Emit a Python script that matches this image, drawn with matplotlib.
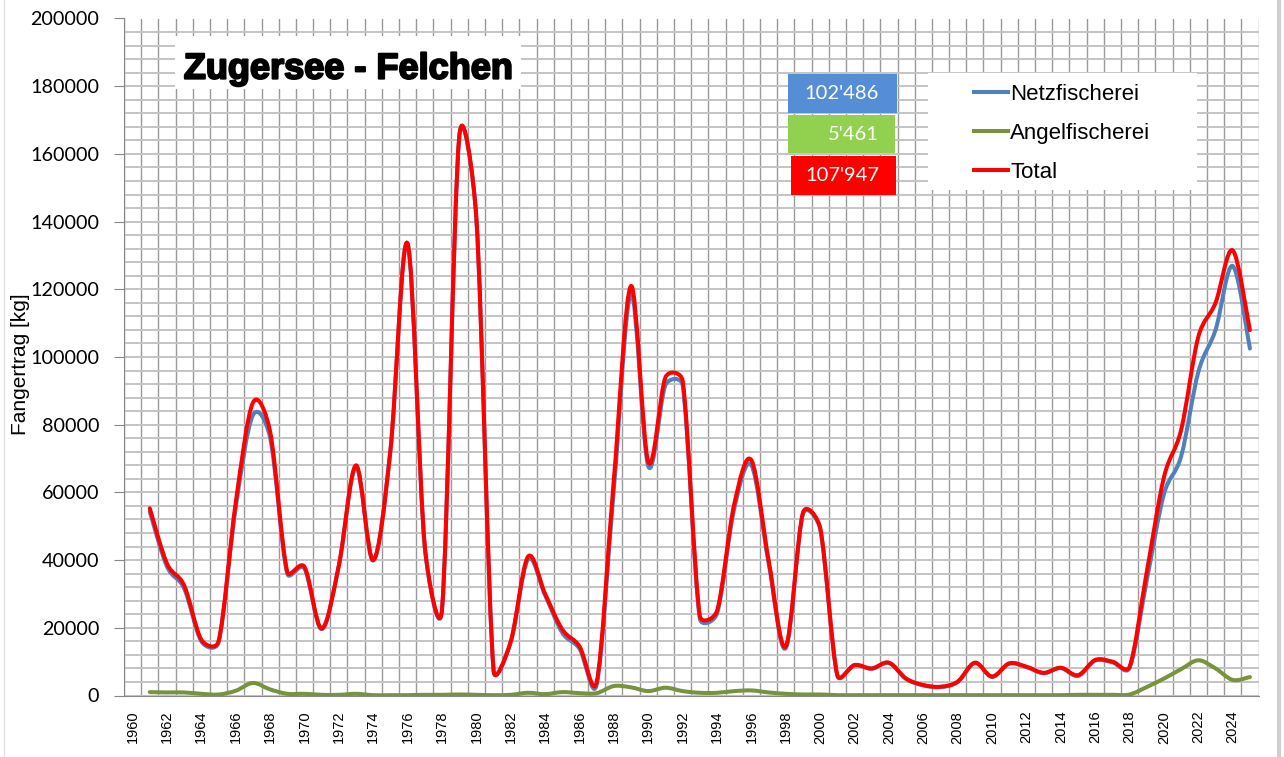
import matplotlib
matplotlib.use("Agg")
import matplotlib.pyplot as plt
import matplotlib.patheffects as pe
from matplotlib.path import Path
from matplotlib.patches import PathPatch, Rectangle
from matplotlib.lines import Line2D
import numpy as np

years = list(range(1961, 2026))

netz = [54300, 38100, 31600, 16000, 15700, 55600, 82800, 76200, 36000, 37500,
        19600, 38300, 67500, 39900, 72400, 133400, 43800, 25300, 164700, 140800,
        7400, 15800, 40200, 29600, 18500, 13800, 3300, 61200, 118600, 67700,
        91700, 91700, 22700, 24200, 55200, 68000, 39100, 14000, 53700, 49200,
        5900, 8900, 7900, 9600, 4900, 3000, 2500, 4000, 9600, 5500,
        9400, 8400, 6600, 8100, 5800, 10300, 9800, 8200, 34000, 59500,
        70700, 95600, 108000, 126900, 102486]

angel = [1000, 900, 900, 500, 300, 1400, 3700, 1800, 500, 500,
         200, 200, 500, 100, 100, 100, 200, 200, 300, 200,
         100, 200, 800, 400, 1000, 700, 700, 2800, 2400, 1300,
         2300, 1300, 800, 800, 1300, 1500, 900, 500, 300, 300,
         100, 100, 100, 100, 100, 100, 100, 100, 100, 100,
         100, 100, 100, 100, 200, 200, 200, 300, 2500, 5000,
         7800, 10400, 8000, 4600, 5461]

total = [55300, 39000, 32500, 16500, 16000, 57000, 86500, 78000, 36500, 38000,
         19800, 38500, 68000, 40000, 72500, 133500, 44000, 25500, 165000, 141000,
         7500, 16000, 41000, 30000, 19500, 14500, 4000, 64000, 121000, 69000,
         94000, 93000, 23500, 25000, 56500, 69500, 40000, 14500, 54000, 49500,
         6000, 9000, 8000, 9700, 5000, 3100, 2600, 4100, 9700, 5600,
         9500, 8500, 6700, 8200, 6000, 10500, 10000, 8500, 36500, 64500,
         78500, 106000, 116000, 131500, 107947]

series_names = ["Netzfischerei", "Angelfischerei", "Total"]
box_labels = ["102'486", "5'461", "107'947"]

c_blue = "#4F81BD"
c_green = "#77933C"
c_red = "#FF0000"

W, H = 1284, 757
PX_X = 17.19            # pixels per year
PX_Y = 677 / 200000     # pixels per kg


def smooth_path(x, y):
    # Excel smoothed line: bezier segments, control arms capped at half segment length
    pts = np.column_stack([x, y]).astype(float)
    sc = np.array([PX_X, PX_Y])
    dist = lambda a, b: np.hypot(*((a - b) * sc))
    n = len(pts)
    verts = [pts[0]]
    codes = [Path.MOVETO]
    for i in range(n - 1):
        p1, p2 = pts[i], pts[i + 1]
        p0 = pts[i - 1] if i > 0 else p1
        p3 = pts[i + 2] if i + 2 < n else p2
        d12 = dist(p1, p2)
        d02 = dist(p0, p2)
        d13 = dist(p1, p3)
        f1 = 1 / 6 if d02 / 6 < d12 / 2 else d12 / (2 * d02)
        f2 = 1 / 6 if d13 / 6 < d12 / 2 else d12 / (2 * d13)
        c1 = p1 + (p2 - p0) * f1
        c2 = p2 - (p3 - p1) * f2
        verts += [c1, c2, p2]
        codes += [Path.CURVE4] * 3
    return Path(verts, codes)


fig = plt.figure(figsize=(W / 100, H / 100), dpi=100)
fig.patch.set_facecolor("white")

ax = fig.add_axes([124 / W, 1 - 695.5 / H, (1258.5 - 124) / W, (695.5 - 18.5) / H])
ax.set_xlim(1959.5, 2025.5)
ax.set_ylim(0, 200000)

# grid
ax.set_xticks(range(1960, 2025, 2))
ax.set_xticks(np.arange(1959.5, 2026, 1), minor=True)
ax.set_yticks(range(0, 200001, 20000))
ax.set_yticks(range(0, 200001, 4000), minor=True)
ax.grid(which="minor", axis="x", color="#999999", lw=1.0)
ax.grid(which="both", axis="y", color="#c4c4c4", lw=1.4)
ax.set_axisbelow(True)

for s in ["top", "right"]:
    ax.spines[s].set_visible(False)
ax.spines["left"].set_color("#868686")
ax.spines["bottom"].set_color("#868686")

ax.tick_params(axis="x", which="both", length=0, pad=11)
ax.tick_params(axis="y", which="major", length=7, color="#868686", pad=10.8)
ax.tick_params(axis="y", which="minor", length=0)
for lab in ax.get_xticklabels():
    lab.set_rotation(90)
    lab.set_fontsize(10.5)
    lab.set_family("Liberation Sans")
for lab in ax.get_yticklabels():
    lab.set_fontsize(14.2)
    lab.set_family("Lato")

ax.set_ylabel("Fangertrag [kg]", fontsize=15, family="Liberation Sans")
ax.yaxis.set_label_coords(-0.083, 0.49)

# lines
for vals, col, z in [(angel, c_green, 3), (netz, c_blue, 4), (total, c_red, 5)]:
    ax.add_patch(PathPatch(smooth_path(years, vals), fill=False, edgecolor=col,
                           lw=2.9, capstyle="round", joinstyle="round", zorder=z))

# title
fig.patches.append(Rectangle((175 / W, 1 - 89 / H), 346 / W, 53 / H,
                             transform=fig.transFigure, facecolor="white",
                             edgecolor="none", zorder=2))
fig.text(348.5 / W, 1 - 78.6 / H, "Zugersee - Felchen", ha="center", va="baseline",
         fontsize=26, fontweight="bold", family="Liberation Sans", zorder=3,
         path_effects=[pe.withStroke(linewidth=1.5, foreground="black")])

# value boxes
boxes = [(788, 74, 109, 39, "#558ED5"), (788, 115, 107, 38, "#92D050"),
         (791, 156, 105, 39, "#FF0000")]
for (bx, by, bw, bh, bc), txt in zip(boxes, box_labels):
    fig.patches.append(Rectangle((bx / W, 1 - (by + bh) / H), bw / W, bh / H,
                                 transform=fig.transFigure, facecolor=bc,
                                 edgecolor="none", zorder=2))
    fig.text(879 / W, 1 - (by + bh / 2) / H, txt, ha="right", va="center",
             fontsize=14.5, family="Lato", color="white", zorder=3)

# legend
fig.patches.append(Rectangle((928 / W, 1 - 190 / H), 269 / W, 117 / H,
                             transform=fig.transFigure, facecolor="white",
                             edgecolor="none", zorder=2))
handles = [Line2D([], [], color=c, lw=2.9) for c in [c_blue, c_green, c_red]]
leg = fig.legend(handles, series_names, loc="upper left",
                 bbox_to_anchor=(963 / W, 1 - 73 / H), frameon=False,
                 borderpad=0, handlelength=1.52, handletextpad=0.1,
                 labelspacing=0.8, prop={"family": "Liberation Sans", "size": 16})
leg.set_zorder(4)

# chart area border
fig.add_artist(Line2D([4 / W, 4 / W], [0, 1], color="#e0e0e0", lw=1,
                      transform=fig.transFigure))
fig.add_artist(Line2D([1278.5 / W, 1278.5 / W], [0, 1], color="#d0d0d0", lw=3,
                      transform=fig.transFigure))

fig.savefig("out.png", dpi=100)
